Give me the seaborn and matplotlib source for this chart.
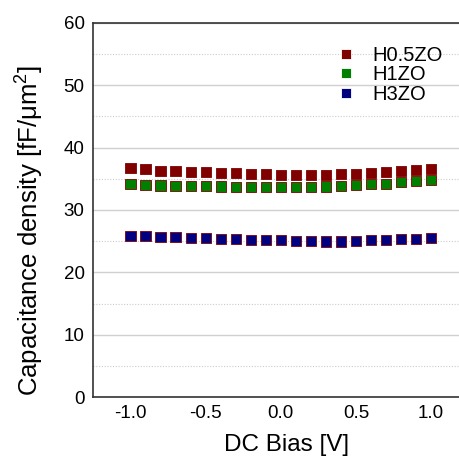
import numpy as np
import pandas as pd
import matplotlib
matplotlib.use("Agg")
import matplotlib.pyplot as plt
from matplotlib.ticker import MultipleLocator
import seaborn as sns

bias = [-1.0, -0.9, -0.8, -0.7, -0.6, -0.5, -0.4, -0.3, -0.2, -0.1, 0.0,
        0.1, 0.2, 0.3, 0.4, 0.5, 0.6, 0.7, 0.8, 0.9, 1.0]
h05zo = [36.69, 36.53, 36.31, 36.21, 36.05, 36.05, 35.88, 35.88, 35.78, 35.72, 35.67,
         35.56, 35.61, 35.56, 35.78, 35.78, 35.99, 36.10, 36.21, 36.42, 36.53]
h1zo = [34.17, 34.01, 33.91, 33.85, 33.80, 33.80, 33.75, 33.69, 33.64, 33.64, 33.64,
        33.64, 33.69, 33.75, 33.85, 34.01, 34.12, 34.22, 34.44, 34.60, 34.81]
h3zo = [25.88, 25.78, 25.67, 25.62, 25.51, 25.46, 25.40, 25.30, 25.24, 25.19, 25.14,
        25.08, 25.03, 24.97, 24.97, 25.03, 25.14, 25.19, 25.30, 25.40, 25.51]
series = ["H0.5ZO", "H1ZO", "H3ZO"]
colors = ["#800000", "#008000", "#000080"]

df = pd.DataFrame({
    "bias": bias * 3,
    "cap": h05zo + h1zo + h3zo,
    "sample": [series[0]] * len(bias) + [series[1]] * len(bias) + [series[2]] * len(bias),
})

sns.set_style("white")
plt.rcParams["font.family"] = ["Liberation Sans", "DejaVu Sans"]
plt.rcParams["text.color"] = "black"
plt.rcParams["axes.labelcolor"] = "black"
plt.rcParams["xtick.color"] = "black"
plt.rcParams["ytick.color"] = "black"
plt.rcParams["mathtext.fontset"] = "custom"
plt.rcParams["mathtext.rm"] = "Liberation Sans"

fig = plt.figure(figsize=(4.59, 4.67), dpi=100)
W, H = 459, 467
x0, x1 = 93, 468.6
y0, y1 = 397, 23
ax = fig.add_axes([x0 / W, 1 - y0 / H, (x1 - x0) / W, (y0 - y1) / H])

ax.yaxis.set_major_locator(MultipleLocator(10))
ax.yaxis.set_minor_locator(MultipleLocator(5))
ax.xaxis.set_major_locator(MultipleLocator(0.5))
ax.xaxis.set_minor_locator(MultipleLocator(0.25))
ax.grid(True, which="major", axis="y", color="#d0d0d0", linewidth=1.0, linestyle="-")
ax.grid(True, which="minor", axis="y", color="#cccccc", linewidth=0.8, linestyle=(0, (1, 1.5)))
ax.set_axisbelow(True)

sns.scatterplot(data=df, x="bias", y="cap", hue="sample", palette=colors,
                marker="s", s=55, linewidth=0.6, ax=ax, legend=True, zorder=3)

for c, col in zip(ax.collections, colors):
    c.set_edgecolor(col)

ax.set_xlim(-1.25, 1.25)
ax.set_ylim(0, 60)
ax.set_xticks([-1.0, -0.5, 0.0, 0.5, 1.0])
ax.set_xticklabels(["-1.0", "-0.5", "0.0", "0.5", "1.0"])

for side in ["left", "bottom", "top", "right"]:
    ax.spines[side].set_color("#333333")
    ax.spines[side].set_linewidth(1.2)

ax.tick_params(axis="both", which="major", direction="in", length=5, width=1.0,
               color="#333333", labelsize=13.5, pad=6, labelcolor="black")
ax.tick_params(axis="x", which="minor", direction="in", length=3, width=0.8, color="#333333")
ax.tick_params(axis="y", which="minor", length=0)

ax.set_xlabel("DC Bias [V]", fontsize=17.5, color="black")
ax.set_ylabel("Capacitance density [fF/\u03bcm$^2$]", fontsize=18.5, color="black")
ax.xaxis.set_label_coords((286.5 - x0) / (x1 - x0), (y0 - 434) / (y0 - y1))
ax.yaxis.set_label_coords((45 - x0) / (x1 - x0), (y0 - 231) / (y0 - y1))

leg = ax.legend(loc="upper left", bbox_to_anchor=((318 - x0) / (x1 - x0), (y0 - 38) / (y0 - y1)),
                frameon=False, fontsize=14.5, handletextpad=0.3, labelspacing=0.02,
                markerscale=0.95, borderaxespad=0)
for t in leg.get_texts():
    t.set_color("black")

fig.savefig("out.png", dpi=100)
